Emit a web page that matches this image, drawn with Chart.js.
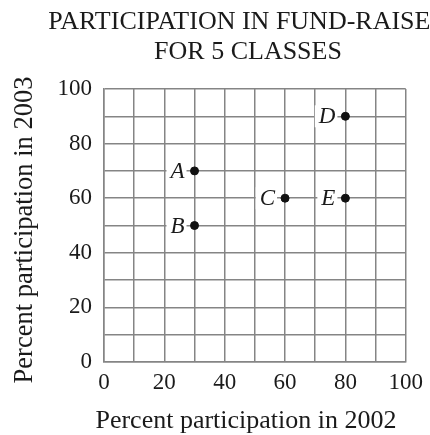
<!DOCTYPE html>
<html>
<head>
<meta charset="utf-8">
<title>Participation in fund-raiser</title>
<script src="https://cdn.jsdelivr.net/npm/chart.js@4.4.1/dist/chart.umd.min.js"></script>
<style>
  html, body { margin: 0; padding: 0; background: #fff; }
  #wrap { position: relative; width: 430px; height: 435px; }
</style>
</head>
<body>
<div id="wrap"><canvas id="fundChart"></canvas></div>
<script>
// classes and their participation (%)
const classNames = ['A', 'B', 'C', 'D', 'E'];
const pct2002 = [30, 30, 60, 80, 80];
const pct2003 = [70, 50, 60, 90, 60];
const tickLabels = [0, 20, 40, 60, 80, 100];

const titleLines = ['PARTICIPATION IN FUND-RAISER', 'FOR 5 CLASSES'];
const xTitle = 'Percent participation in 2002';
const yTitle = 'Percent participation in 2003';

const SERIF = '"Liberation Serif", "DejaVu Serif", serif';
const INK = '#1a1a1a';
const GRID = '#858585';

// italic letter next to each dot, on a white patch over the grid
const pointLetters = {
  id: 'pointLetters',
  beforeDatasetsDraw(chart) {
    const ctx = chart.ctx;
    const meta = chart.getDatasetMeta(0);
    ctx.save();
    ctx.font = 'italic 23px ' + SERIF;
    ctx.textAlign = 'right';
    ctx.textBaseline = 'middle';
    meta.data.forEach((pt, i) => {
      const right = pt.x - 10;
      const w = ctx.measureText(classNames[i]).width;
      ctx.fillStyle = '#fff';
      ctx.fillRect(right - w - 4, pt.y - 11, w + 6, 22);
      ctx.fillStyle = INK;
      ctx.fillText(classNames[i], right, pt.y + 1);
    });
    ctx.restore();
  }
};

// heading and both axis captions
const captions = {
  id: 'captions',
  afterDraw(chart) {
    const ctx = chart.ctx;
    ctx.save();
    ctx.fillStyle = INK;
    ctx.textAlign = 'center';
    ctx.textBaseline = 'alphabetic';
    ctx.font = '26px ' + SERIF;
    ctx.fillText(titleLines[0], 248, 29);
    ctx.fillText(titleLines[1], 248, 59);
    ctx.fillText(xTitle, 246, 428);

    ctx.translate(32, 230);
    ctx.rotate(-Math.PI / 2);
    ctx.font = '26.5px ' + SERIF;
    ctx.fillText(yTitle, 0, 0);
    ctx.restore();
  }
};

const tickCallback = v => (tickLabels.includes(v) ? String(v) : '');

new Chart(document.getElementById('fundChart'), {
  type: 'scatter',
  data: {
    datasets: [{
      data: pct2002.map((x, i) => ({ x: x, y: pct2003[i] })),
      backgroundColor: '#111',
      borderColor: '#111',
      pointRadius: 4,
      pointHoverRadius: 4
    }]
  },
  options: {
    responsive: true,
    maintainAspectRatio: false,
    animation: false,
    layout: { padding: { top: 89, right: 22, left: 0, bottom: 0 } },
    plugins: {
      legend: { display: false },
      tooltip: { enabled: false },
      title: { display: false }
    },
    scales: {
      x: {
        type: 'linear',
        min: 0,
        max: 100,
        afterFit(scale) { scale.height = 73; },
        grid: { color: GRID, lineWidth: 1.5, drawTicks: false },
        border: { color: GRID, width: 1.5 },
        ticks: {
          stepSize: 10,
          autoSkip: false,
          maxRotation: 0,
          padding: 7,
          color: INK,
          font: { family: SERIF, size: 23 },
          callback: tickCallback
        }
      },
      y: {
        type: 'linear',
        min: 0,
        max: 100,
        afterFit(scale) { scale.width = 104; },
        grid: { color: GRID, lineWidth: 1.5, drawTicks: false },
        border: { color: GRID, width: 1.5 },
        ticks: {
          stepSize: 10,
          autoSkip: false,
          padding: 12,
          color: INK,
          font: { family: SERIF, size: 23 },
          callback: tickCallback
        }
      }
    }
  },
  plugins: [pointLetters, captions]
});
</script>
</body>
</html>
